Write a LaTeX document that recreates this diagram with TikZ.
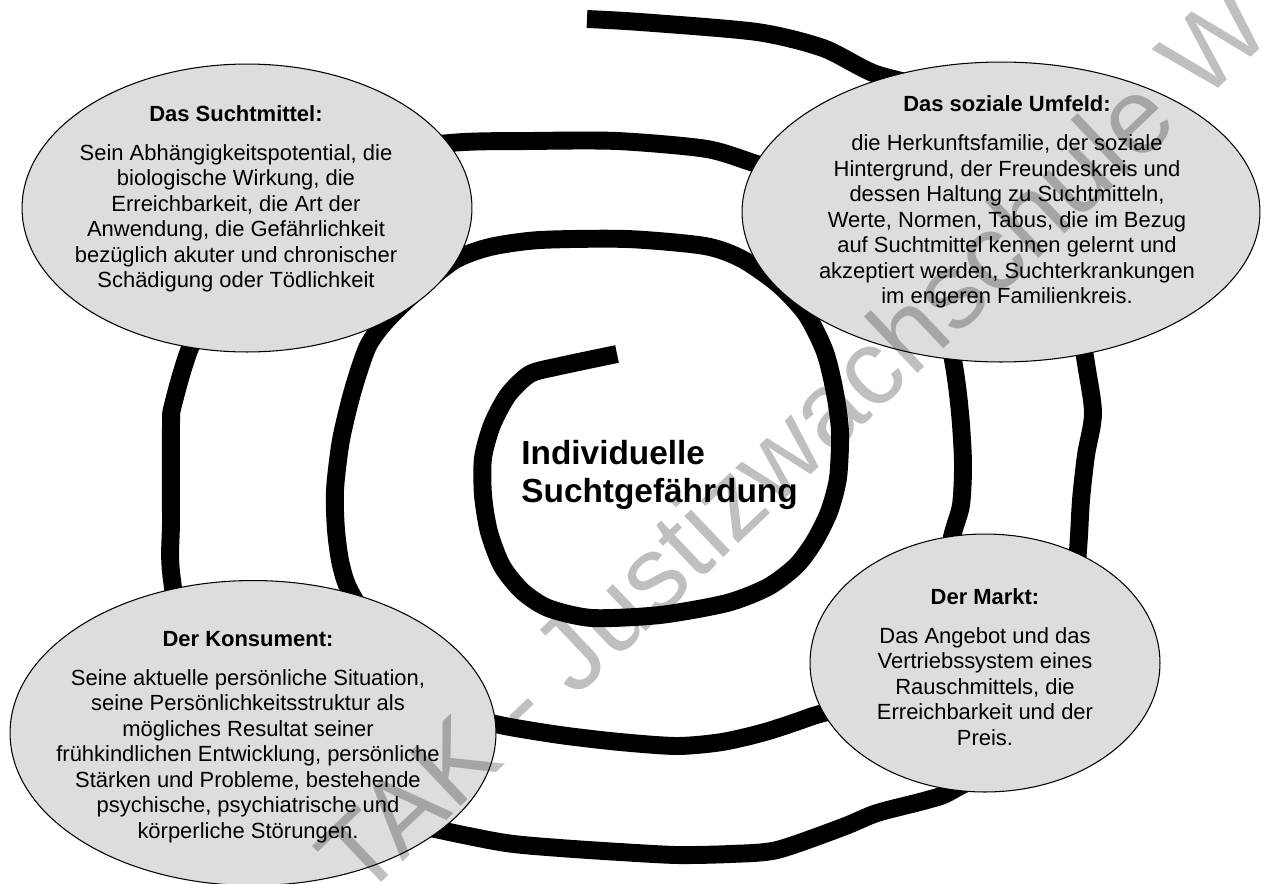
\documentclass[tikz,border=0pt]{standalone}
\usepackage{fontspec}
\setmainfont{Liberation Sans}
\usetikzlibrary{shapes.geometric}
\definecolor{blobgray}{HTML}{DDDDDD}
\tikzstyle{blob}=[ellipse,draw=black,fill=blobgray,line width=0.6pt,inner sep=0pt]
\tikzstyle{blobtext}=[align=center,font=\fontsize{12.5}{14.5}\selectfont,inner sep=0pt]
\tikzstyle{spiral}=[line width=10.2pt,line join=round]
\tikzstyle{stamp}=[text=black,text opacity=0.25,font=\fontsize{61}{61}\selectfont,rotate=43.5]
\newcommand{\pxunit}{0.02cm}
\newcommand{\headgap}{7.7pt}

\begin{document}
\begin{tikzpicture}[x=\pxunit,y=-\pxunit]
    \useasboundingbox (0,0) rectangle (1264,883);
    % the spiral, the ellipses lie on top of it
    \draw[spiral] plot[smooth,tension=0.45] coordinates {
      (617,354) (560,366) (530,374) (508,395) (492,425) (483,458) (483,495)
      (489,532) (502,566) (522,591) (548,608) (592,618) (660,615) (727,603)
      (768,587) (796,566) (814,542) (829,512) (838,478) (840,432) (835,393)
      (825,352) (806,314) (778,284) (742,259) (705,246) (627,239) (540,240)
      (490,247) (455,260) (420,288) (387,320) (368,346) (353,390) (341,440)
      (335,490) (336,530) (341,565) (352,595) (400,670) (455,712) (500,725)
      (560,735) (620,742) (677,746) (722,742) (765,732) (810,717) (880,690)
      (940,600) (952,537) (961,505) (963,463) (960,413) (953,360) (930,250)
      (830,185) (760,165) (707,149) (617,141) (530,141) (450,143) (330,160)
      (230,260) (190,348) (173,405) (171,425) (171,520) (172,580) (200,720)
      (330,805) (440,830) (506,843) (560,848) (620,852) (677,855) (730,854)
      (777,850) (843,827) (877,813) (927,800) (953,790) (1030,740) (1070,630)
      (1078,550) (1081,500) (1086,455) (1093,413) (1085,357) (1060,200)
      (950,100) (873,73) (823,48) (757,32) (640,22) (587,19)};
    % the four factors
    \node[blob,minimum width=9cm,minimum height=5.76cm] (mittel) at (247,208) {};
    \node[blob,minimum width=10.36cm,minimum height=6cm] (umfeld) at (1001,212) {};
    \node[blob,minimum width=9.72cm,minimum height=6.1cm] (konsument) at (253,733) {};
    \node[blob,minimum width=7cm,minimum height=5.16cm] (markt) at (985,663) {};
    \node[blobtext] (mitteltxt) at (236,199) {\textbf{Das Suchtmittel:}\\[\headgap]
      Sein Abhängigkeitspotential, die\\ biologische Wirkung, die\\
      Erreichbarkeit, die Art der\\ Anwendung, die Gefährlichkeit\\
      bezüglich akuter und chronischer\\ Schädigung oder Tödlichkeit};
    \node[blobtext] (umfeldtxt) at (1007,202) {\textbf{Das soziale Umfeld:}\\[\headgap]
      die Herkunftsfamilie, der soziale\\ Hintergrund, der Freundeskreis und\\
      dessen Haltung zu Suchtmitteln,\\ Werte, Normen, Tabus, die im Bezug\\
      auf Suchtmittel kennen gelernt und\\ akzeptiert werden, Suchterkrankungen\\
      im engeren Familienkreis.};
    \node[blobtext] (konsumenttxt) at (248,737) {\textbf{Der Konsument:}\\[\headgap]
      Seine aktuelle persönliche Situation,\\ seine Persönlichkeitsstruktur als\\
      mögliches Resultat seiner\\ frühkindlichen Entwicklung, persönliche\\
      Stärken und Probleme, bestehende\\ psychische, psychiatrische und\\
      körperliche Störungen.};
    \node[blobtext] (markttxt) at (985,667) {\textbf{Der Markt:}\\[\headgap]
      Das Angebot und das\\ Vertriebssystem eines\\ Rauschmittels, die\\
      Erreichbarkeit und der\\ Preis.};
    % centre
    \node[font=\fontsize{19}{21.6}\selectfont\bfseries,align=left,anchor=west,inner sep=0pt]
      (kern) at (521,475) {Individuelle\\Suchtgefährdung};
    % watermark
    \node[stamp] (stempel) at (792,440) {TAK - Justizwachschule W};
\end{tikzpicture}
\end{document}
